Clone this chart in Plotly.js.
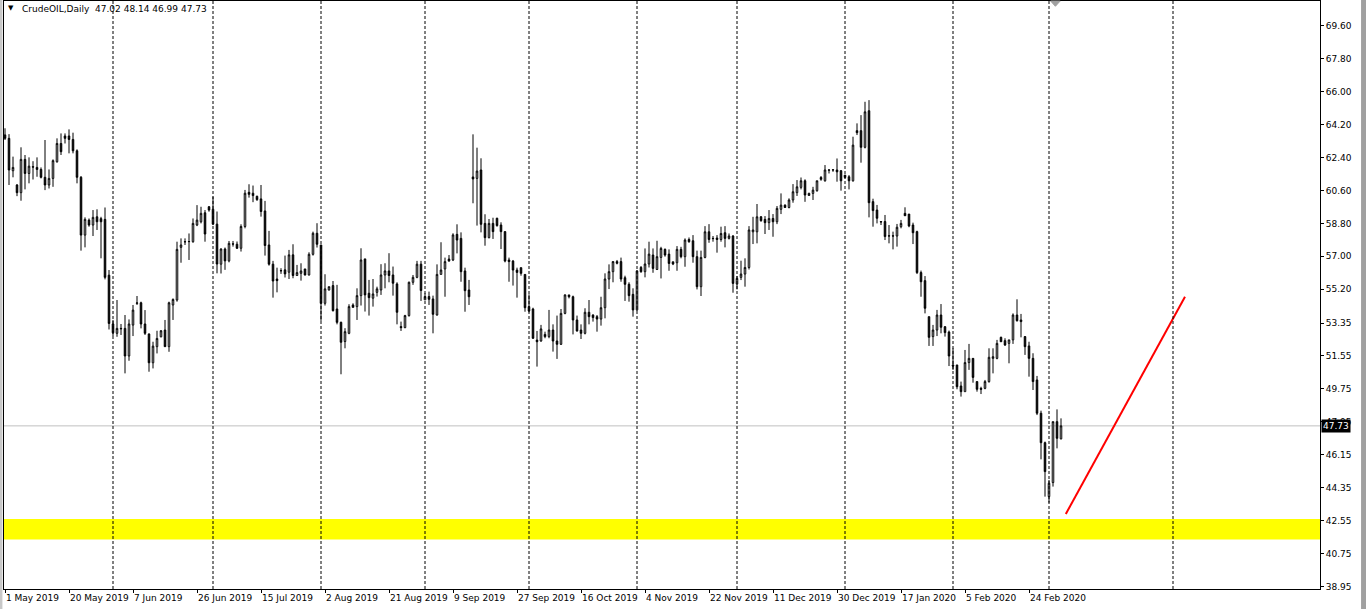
<!DOCTYPE html>
<html><head><meta charset="utf-8">
<script src="https://cdn.plot.ly/plotly-3.0.1.min.js"></script>
<style>html,body{margin:0;padding:0;background:#fff;overflow:hidden}#chart{width:1366px;height:609px}</style>
</head><body><div id="chart"></div>
<script>
const symbol = "CrudeOIL,Daily";
const open = [63.64,63.45,61.68,60.90,60.48,62.30,61.53,61.90,61.86,61.75,61.32,60.90,61.26,62.17,63.17,63.58,63.58,63.39,62.77,61.32,
58.16,58.98,58.71,59.16,59.06,59.02,55.97,53.30,52.79,53.06,53.06,51.55,53.24,54.43,54.46,53.30,52.75,51.18,52.06,52.60,
52.97,52.06,54.34,54.61,57.49,57.79,57.80,57.80,58.71,58.89,59.38,59.71,59.57,58.76,56.57,57.40,56.75,57.68,57.66,57.44,
58.63,60.50,60.45,60.28,60.14,59.48,57.62,56.57,55.76,56.22,56.26,56.13,57.08,55.95,56.07,56.31,55.98,57.11,58.26,57.62,
54.43,55.16,55.40,54.12,53.39,52.34,52.79,54.34,54.25,54.85,56.86,54.98,54.71,55.03,55.16,55.98,56.20,55.98,55.49,53.16,
53.10,53.76,55.58,55.85,56.57,54.62,54.80,54.67,53.79,56.01,56.31,56.85,56.80,58.20,57.98,56.20,55.16,61.34,61.26,61.72,
58.80,58.02,58.80,59.08,58.71,58.35,56.80,56.74,56.25,56.38,56.01,54.25,54.12,52.42,52.37,52.73,52.61,52.97,52.37,52.19,
53.88,54.89,54.79,53.52,52.97,52.79,53.94,53.79,53.70,53.57,54.19,55.76,56.16,56.71,56.71,55.83,55.47,54.92,54.07,56.39,
56.16,56.58,57.07,56.28,56.94,57.38,57.12,56.70,56.65,57.38,56.98,57.92,57.85,56.98,55.34,56.94,58.34,57.98,58.00,57.92,
58.29,57.98,58.11,55.48,55.85,56.03,56.39,58.34,58.34,59.16,59.02,58.84,59.07,58.89,59.57,59.80,59.67,60.08,60.48,60.77,
61.13,60.33,60.44,60.59,61.31,61.13,61.71,61.72,61.72,61.68,61.44,61.35,61.13,63.87,63.87,62.96,64.96,59.99,59.53,58.90,
58.90,58.11,58.12,58.11,58.62,59.35,59.31,58.71,58.35,56.11,55.67,53.70,52.61,52.97,53.79,53.15,52.86,51.06,51.06,49.91,
49.60,51.19,51.42,50.15,49.78,49.78,50.15,51.42,51.42,52.57,52.39,52.24,52.43,53.79,53.52,52.61,52.10,51.42,50.24,48.42,
46.81,43.86,44.63,47.96,47.02];
const high = [64.00,63.68,62.45,60.95,62.96,62.54,62.41,62.20,62.41,61.86,63.36,61.75,62.30,63.45,63.72,63.72,63.94,63.76,62.85,61.39,
59.13,59.07,59.53,59.57,59.16,59.67,56.25,53.52,54.61,53.30,53.79,53.55,54.34,54.83,54.52,54.06,52.79,52.33,52.93,52.97,
53.52,54.52,54.70,57.80,57.98,57.98,58.25,59.07,59.80,59.71,59.53,59.75,60.26,59.45,57.44,57.48,57.84,57.84,57.81,58.75,
60.63,60.94,60.87,60.32,60.90,60.03,58.39,56.75,56.38,56.35,57.04,57.35,57.66,56.53,56.62,56.31,57.22,58.35,58.81,57.62,
56.02,55.34,55.65,55.44,53.43,53.07,54.38,54.43,55.25,57.44,56.86,55.71,55.76,55.34,56.57,56.62,57.17,56.44,55.58,53.43,
53.80,55.62,55.98,56.75,56.75,54.98,55.07,54.85,56.56,57.77,56.93,57.07,58.26,58.75,58.31,56.38,55.71,63.67,62.94,62.36,
59.30,59.04,59.11,59.11,58.86,58.38,56.93,56.80,56.38,56.38,56.01,54.92,54.19,52.92,53.25,52.88,54.07,53.28,53.76,54.12,
54.92,54.89,54.85,53.76,53.28,54.16,54.61,53.83,53.79,54.79,56.07,56.56,56.74,56.80,56.93,55.94,55.58,55.25,56.25,56.47,
57.43,57.80,57.43,57.85,57.52,57.43,57.38,56.70,57.56,57.52,57.98,58.03,58.16,57.31,57.31,58.65,58.76,58.11,58.16,58.62,
58.65,58.25,58.16,55.92,56.76,56.89,58.65,59.16,59.86,59.20,59.20,59.53,59.31,59.75,60.44,59.84,60.17,60.95,61.17,61.31,
61.21,60.48,60.80,61.13,61.39,61.99,61.75,61.75,62.35,61.72,61.44,61.44,63.54,64.27,64.72,65.45,65.54,60.15,59.81,58.90,
59.26,58.71,58.35,58.77,58.99,59.68,59.31,58.84,58.40,56.22,55.92,53.70,53.25,54.07,54.39,53.19,52.94,51.97,51.06,50.15,
51.88,52.21,51.42,50.15,49.87,50.24,51.97,51.97,52.43,52.61,52.52,52.43,53.88,54.65,53.85,52.64,52.33,51.70,50.46,48.56,
46.87,44.77,47.96,48.63,48.14];
const low = [63.36,60.90,61.32,60.29,60.04,60.66,60.99,61.20,61.35,61.26,60.62,60.71,60.80,62.12,62.54,63.17,62.63,62.63,60.99,57.31,
57.49,58.62,58.11,58.44,56.89,55.74,53.00,52.64,52.60,52.70,50.60,51.29,52.64,54.34,53.06,52.70,50.69,50.87,51.69,52.57,
52.06,51.78,53.52,54.52,56.65,57.62,56.80,57.74,58.65,58.80,57.80,59.44,58.71,56.07,56.06,56.26,56.67,57.53,57.40,57.26,
58.53,60.21,59.96,60.03,59.17,57.04,56.49,54.74,55.03,56.04,55.84,55.76,55.80,55.95,55.67,55.95,55.95,57.04,57.48,53.47,
54.31,55.13,53.98,53.28,50.55,51.97,52.74,54.20,53.52,54.31,53.98,53.76,54.25,54.80,54.89,55.25,55.58,54.85,53.28,52.92,
53.07,53.70,55.44,55.80,54.56,54.62,54.34,52.79,53.76,56.01,54.79,56.71,56.74,57.16,55.61,53.97,54.34,59.90,58.68,58.31,
57.58,57.98,57.95,58.62,57.40,56.67,55.61,55.40,54.74,55.94,53.97,53.94,52.48,50.97,52.33,52.52,52.52,51.79,51.39,52.15,
53.83,54.70,52.73,52.88,52.48,52.73,53.28,53.43,52.88,53.21,53.61,55.21,55.58,56.56,55.61,54.56,54.52,53.70,54.01,56.10,
55.85,56.39,56.10,56.25,55.79,56.98,56.21,56.52,56.21,56.89,56.43,57.74,56.65,55.19,54.83,56.89,57.74,57.80,57.20,57.80,
57.49,57.92,55.01,55.19,55.70,55.34,56.28,57.67,57.71,58.89,58.22,58.44,58.07,58.76,59.31,59.64,59.62,59.93,60.30,60.66,
59.98,60.30,60.08,60.53,61.13,61.08,61.53,61.62,61.08,60.59,61.26,60.66,61.08,63.63,62.12,62.90,59.13,58.62,58.80,58.71,
57.89,57.71,57.38,57.53,58.53,59.21,58.59,57.67,56.03,54.79,53.88,52.10,52.10,52.64,52.79,52.61,51.00,50.79,49.73,49.33,
49.60,50.79,50.09,49.60,49.47,49.73,50.09,50.60,51.37,52.33,52.10,51.15,52.21,53.43,52.57,51.61,50.42,49.69,48.32,45.90,
43.86,43.53,44.41,46.50,46.99];
const close = [63.45,61.72,61.86,60.48,62.30,61.53,61.93,61.88,61.75,61.32,60.90,61.26,62.23,63.17,62.72,63.45,63.39,62.77,61.32,58.16,
59.02,58.71,59.13,58.89,58.89,55.85,53.33,52.82,53.06,53.04,51.55,53.30,54.06,54.45,53.30,52.79,51.18,52.09,52.51,52.93,
52.06,54.46,54.64,57.38,57.62,57.80,57.81,58.80,58.98,59.35,58.22,59.53,58.76,56.58,57.40,56.75,57.71,57.67,57.44,58.63,
60.45,60.39,60.32,60.10,59.45,57.59,56.57,55.65,55.67,56.21,56.04,57.08,55.95,56.11,56.20,55.98,57.11,58.26,57.66,54.43,
55.22,55.34,54.03,53.39,52.30,52.88,54.25,54.21,54.85,56.80,54.89,54.74,54.94,55.22,55.98,56.20,55.95,55.53,53.94,53.10,
53.76,55.58,55.85,56.57,55.13,54.80,54.65,53.83,56.01,56.25,56.71,56.74,58.17,57.89,56.16,55.12,54.79,61.23,61.66,58.75,
58.02,58.80,58.35,58.68,58.35,56.74,56.71,56.25,56.12,56.07,54.19,54.01,52.52,52.33,53.03,52.61,52.97,52.37,52.19,53.88,
54.89,54.79,53.52,52.92,52.79,53.94,53.70,53.65,53.57,54.19,55.76,56.16,56.71,56.62,55.76,55.47,54.85,54.07,56.20,56.16,
56.58,57.12,56.34,56.98,57.43,57.07,56.61,56.58,57.38,56.98,57.89,57.80,56.98,55.34,56.94,58.34,57.92,57.97,57.92,58.25,
57.98,58.11,55.52,55.79,56.03,56.39,58.44,58.44,59.16,58.95,58.84,59.07,58.89,59.62,59.80,59.67,60.08,60.53,60.80,61.13,
60.35,60.44,60.62,61.13,61.21,61.72,61.72,61.73,61.62,61.13,61.31,61.13,63.08,63.76,62.96,64.90,59.93,59.50,59.08,58.88,
58.08,58.12,58.11,58.59,58.80,59.22,58.66,58.29,56.11,55.61,54.16,52.57,52.97,53.79,53.12,52.83,51.55,51.00,49.87,49.60,
51.19,51.42,50.38,49.73,49.73,50.15,51.48,51.51,52.24,52.33,52.15,52.43,53.79,53.48,53.43,52.06,51.42,50.15,48.42,46.81,
45.23,44.59,47.96,47.05,47.73];

const dateLabels = ["1 May 2019","20 May 2019","7 Jun 2019","26 Jun 2019","15 Jul 2019","2 Aug 2019","21 Aug 2019","9 Sep 2019",
"27 Sep 2019","16 Oct 2019","4 Nov 2019","22 Nov 2019","11 Dec 2019","30 Dec 2019","17 Jan 2020","5 Feb 2020","24 Feb 2020"];
const dateLabelBars = [0,16,32,48,64,80,96,112,128,144,160,176,192,208,224,240,256];
const monthStartBars = [27,52,79,105,131,158,183,210,237,261,292];
const priceTicks = [69.60,67.80,66.00,64.20,62.40,60.60,58.80,57.00,55.20,53.35,51.55,49.75,47.95,46.15,44.35,42.55,40.75,38.95];
const priceTickText = ["69.60","67.80","66.00","64.20","62.40","60.60","58.80","57.00","55.20","53.35","51.55","49.75","47.95","46.15","44.35","42.55","40.75","38.95"];
const supportZone = [41.52, 42.64];
const trendBars = [265.2, 295.0];
const trendPrices = [42.91, 54.79];

const bars = open.map((_, i) => i);
const last = open.length - 1;
const lastClose = close[last];
const fmt = v => v.toFixed(2);

const FONT = "DejaVu Sans, Verdana, sans-serif";

const candles = {
  type: "candlestick", x: bars, open: open, high: high, low: low, close: close,
  increasing: {line: {color: "#000000", width: 1}, fillcolor: "#ffffff"},
  decreasing: {line: {color: "#000000", width: 1}, fillcolor: "#000000"},
  whiskerwidth: 0, hoverinfo: "skip", showlegend: false
};
const trend = {
  type: "scatter", mode: "lines", x: trendBars, y: trendPrices,
  line: {color: "#ff0000", width: 2}, hoverinfo: "skip", showlegend: false
};

const shapes = [];
shapes.push({type: "rect", xref: "paper", yref: "y", x0: 0, x1: 1, y0: supportZone[0], y1: supportZone[1],
  fillcolor: "#ffff00", line: {width: 0}, layer: "below"});
shapes.push({type: "line", xref: "paper", yref: "y", x0: 0, x1: 1, y0: lastClose, y1: lastClose,
  line: {color: "#c0c0c0", width: 1}, layer: "below"});
monthStartBars.forEach(b => shapes.push({type: "line", xref: "x", yref: "paper", x0: b, x1: b, y0: 0, y1: 1,
  line: {color: "#000000", width: 1, dash: "3px,2px"}, layer: "above"}));
// chart shift marker
shapes.push({type: "path", xref: "x", yref: "paper", path: "M 261.4 1 L 263.8 1 L 262.6 0.991 Z",
  fillcolor: "#a0a0a0", line: {color: "#a0a0a0", width: 1}});
// window edges
shapes.push({type: "rect", xref: "paper", yref: "paper", x0: -0.00304, x1: -0.0012, y0: -0.04, y1: 1.01,
  fillcolor: "#c8c8c8", line: {width: 0}});
shapes.push({type: "rect", xref: "paper", yref: "paper", x0: 1.0312, x1: 1.04, y0: -0.04, y1: 1.01,
  fillcolor: "#a0a0a0", line: {width: 0}});

const annotations = [
  {xref: "paper", yref: "paper", x: 0.0015, y: 0.998, xanchor: "left", yanchor: "top", showarrow: false,
   text: "▼", font: {family: FONT, size: 7, color: "#000"}},
  {xref: "paper", yref: "paper", x: 0.0122, y: 0.999, xanchor: "left", yanchor: "top", showarrow: false,
   text: symbol + "  " + [open[last], high[last], low[last], close[last]].map(fmt).join(" "),
   font: {family: FONT, size: 9, color: "#000"}},
  {xref: "paper", yref: "y", x: 1, y: lastClose, xanchor: "left", yanchor: "middle", xshift: 1, showarrow: false,
   text: fmt(lastClose), bgcolor: "#000000", borderpad: 1, font: {family: FONT, size: 9, color: "#ffffff"}}
];

const layout = {
  width: 1366, height: 609,
  margin: {l: 4, r: 46, t: 1, b: 20, pad: 0},
  paper_bgcolor: "#ffffff", plot_bgcolor: "#ffffff",
  showlegend: false, boxgap: 0.45, dragmode: false,
  font: {family: FONT, size: 9, color: "#000"},
  xaxis: {
    range: [-0.25, 328.75], showgrid: false, zeroline: false,
    showline: true, linecolor: "#000", linewidth: 1, mirror: true,
    tickmode: "array", tickvals: dateLabelBars, ticktext: dateLabels, tickangle: 0,
    ticks: "outside", ticklen: 3, tickcolor: "#000", ticklabelposition: "outside right",
    ticklabelstandoff: 0,
    tickfont: {family: FONT, size: 9, color: "#000"},
    rangeslider: {visible: false}, fixedrange: true
  },
  yaxis: {
    side: "right", range: [38.81, 70.96], showgrid: false, zeroline: false,
    showline: true, linecolor: "#000", linewidth: 1, mirror: true,
    tickmode: "array", tickvals: priceTicks, ticktext: priceTickText,
    ticks: "outside", ticklen: 3, tickcolor: "#000",
    tickfont: {family: FONT, size: 9, color: "#000"}, fixedrange: true
  },
  shapes: shapes, annotations: annotations
};

Plotly.newPlot("chart", [candles, trend], layout, {displayModeBar: false, staticPlot: true});
</script>
</body></html>
